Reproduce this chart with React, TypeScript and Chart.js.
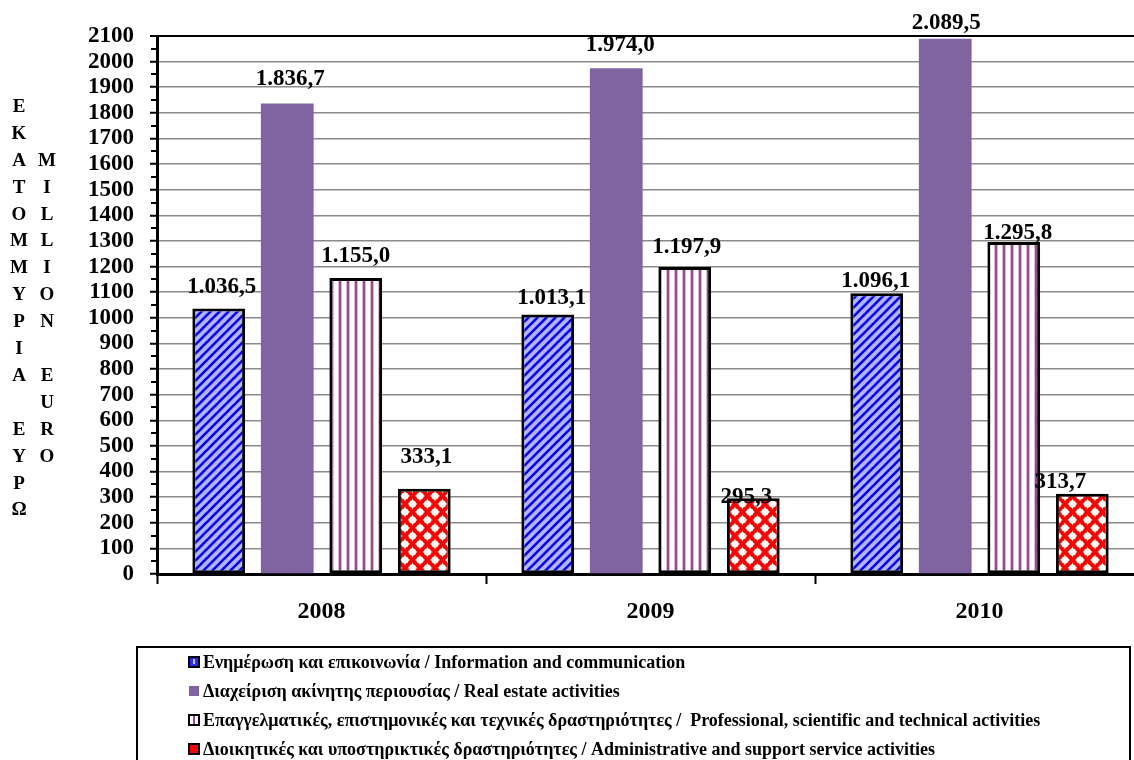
import React, { useEffect, useRef } from "react";
import { Chart, registerables } from "chart.js";

Chart.register(...registerables);

// ---------- data ----------
const categories = ["2008", "2009", "2010"];
const infoComm = [1036.5, 1013.1, 1096.1];
const realEstate = [1836.7, 1974.0, 2089.5];
const professional = [1155.0, 1197.9, 1295.8];
const adminSupport = [333.1, 295.3, 313.7];

const seriesNames = [
  "Ενημέρωση και επικοινωνία / Information and communication",
  "Διαχείριση ακίνητης περιουσίας / Real estate activities",
  "Επαγγελματικές, επιστημονικές και τεχνικές δραστηριότητες /  Professional, scientific and technical activities",
  "Διοικητικές και υποστηρικτικές δραστηριότητες / Administrative and support service activities",
];

const yMin = 0;
const yMax = 2100;
const yStep = 100;
const yTitleGreek = "ΕΚΑΤΟΜΜΥΡΙΑ ΕΥΡΩ";
const yTitleEnglish = "MILLION EURO";

// ---------- style ----------
const SERIF = "'Liberation Serif', 'Times New Roman', serif";
const PURPLE = "#8064a2";

// label nudges (px) relative to bar top: [dx, dy]
const LABEL_NUDGE: number[][][] = [
  [[3, -21], [4, -16], [-1, -12]],
  [[3, -24], [4, -23], [1, -16]],
  [[0, -22], [2, -20], [4, -9]],
  [[2, -32], [-7, -1], [-22, -12]],
];

function fmt(v: number): string {
  const s = v.toFixed(1);
  const [intPart, dec] = s.split(".");
  const withDots = intPart.replace(/\B(?=(\d{3})+(?!\d))/g, ".");
  return withDots + "," + dec;
}

function makePattern(w: number, h: number, draw: (g: CanvasRenderingContext2D) => void) {
  const c = document.createElement("canvas");
  c.width = w;
  c.height = h;
  const g = c.getContext("2d")!;
  draw(g);
  return g.createPattern(c, "repeat")!;
}

export default function App() {
  const ref = useRef<HTMLCanvasElement | null>(null);

  useEffect(() => {
    document.body.style.margin = "0";
    document.body.style.overflow = "hidden";
    const canvas = ref.current!;

    const bluePat = makePattern(9, 9, (g) => {
      g.fillStyle = "#b4b4ff";
      g.fillRect(0, 0, 9, 9);
      g.strokeStyle = "#0000ff";
      g.lineWidth = 2.6;
      for (const k of [-9, 0, 9]) {
        g.beginPath();
        g.moveTo(k - 1, 10);
        g.lineTo(k + 10, -1);
        g.stroke();
      }
    });
    const stripePat = makePattern(8, 8, (g) => {
      g.fillStyle = "#ffffff";
      g.fillRect(0, 0, 8, 8);
      g.fillStyle = "#dcbad6";
      g.fillRect(2, 0, 1, 8);
      g.fillRect(5, 0, 1, 8);
      g.fillStyle = "#9a4a8a";
      g.fillRect(3, 0, 2, 8);
    });
    const redPat = makePattern(15, 16, (g) => {
      g.fillStyle = "#ff0000";
      g.fillRect(0, 0, 15, 16);
      g.fillStyle = "#ffffff";
      const centers = [
        [0, 0], [15, 0], [0, 16], [15, 16], [7.5, 8],
      ];
      for (const [cx, cy] of centers) {
        g.beginPath();
        g.moveTo(cx, cy - 5.4);
        g.quadraticCurveTo(cx + 1.2, cy - 1.2, cx + 5.1, cy);
        g.quadraticCurveTo(cx + 1.2, cy + 1.2, cx, cy + 5.4);
        g.quadraticCurveTo(cx - 1.2, cy + 1.2, cx - 5.1, cy);
        g.quadraticCurveTo(cx - 1.2, cy - 1.2, cx, cy - 5.4);
        g.closePath();
        g.fill();
        g.beginPath();
        g.arc(cx, cy, 3.6, 0, Math.PI * 2);
        g.fill();
      }
    });

    const fills = [bluePat, PURPLE, stripePat, redPat];

    const labelPlugin = {
      id: "barLabels",
      afterDatasetsDraw(chart: any) {
        const ctx = chart.ctx;
        ctx.save();
        ctx.fillStyle = "#000";
        ctx.font = `bold 23px ${SERIF}`;
        ctx.textAlign = "center";
        ctx.textBaseline = "middle";
        chart.data.datasets.forEach((ds: any, di: number) => {
          const meta = chart.getDatasetMeta(di);
          meta.data.forEach((el: any, i: number) => {
            const n = LABEL_NUDGE[di][i];
            ctx.fillText(fmt(ds.data[i]), el.x + n[0], el.y + n[1]);
          });
        });
        ctx.restore();
      },
    };

    const decoPlugin = {
      id: "deco",
      afterDraw(chart: any) {
        const ctx = chart.ctx;
        const y = chart.scales.y;
        const left = chart.chartArea.left;
        ctx.save();
        // minor ticks
        ctx.strokeStyle = "#000";
        ctx.lineWidth = 2;
        for (let v = yMin + yStep / 2; v < yMax; v += yStep) {
          const py = Math.round(y.getPixelForValue(v));
          ctx.beginPath();
          ctx.moveTo(left - 6, py);
          ctx.lineTo(left, py);
          ctx.stroke();
        }
        // y titles (stacked letters)
        ctx.fillStyle = "#000";
        ctx.font = `bold 19px ${SERIF}`;
        ctx.textAlign = "center";
        ctx.textBaseline = "middle";
        const step = 26.9;
        Array.from(yTitleGreek).forEach((ch, i) => {
          if (ch !== " ") ctx.fillText(ch, 19, 107 + i * step);
        });
        Array.from(yTitleEnglish).forEach((ch, i) => {
          if (ch !== " ") ctx.fillText(ch, 47, 107 + (i + 2) * step);
        });

        // legend box
        ctx.lineWidth = 2;
        ctx.strokeStyle = "#000";
        ctx.strokeRect(137, 647, 993, 140);
        ctx.font = `bold 18px ${SERIF}`;
        ctx.textAlign = "left";
        const rows = [662, 691, 720, 749];
        seriesNames.forEach((name, i) => {
          const cy = rows[i];
          const mx = 189, ms = 10;
          if (i === 1) {
            ctx.fillStyle = PURPLE;
            ctx.fillRect(mx, cy - ms / 2, ms, ms);
          } else {
            if (i === 0) {
              ctx.fillStyle = "#2a2aff";
              ctx.fillRect(mx, cy - ms / 2, ms, ms);
              ctx.fillStyle = "#c0c0ff";
              ctx.fillRect(mx + 4, cy - 3, 2, 5);
            } else if (i === 2) {
              ctx.fillStyle = "#ffffff";
              ctx.fillRect(mx, cy - ms / 2, ms, ms);
              ctx.fillStyle = "#9a4a8a";
              ctx.fillRect(mx + 4, cy - ms / 2, 2, ms);
            } else {
              ctx.fillStyle = "#ff0000";
              ctx.fillRect(mx, cy - ms / 2, ms, ms);
            }
            ctx.lineWidth = 2;
            ctx.strokeStyle = "#000";
            ctx.strokeRect(mx, cy - ms / 2, ms, ms);
          }
          ctx.fillStyle = "#000";
          ctx.fillText(name, 203, cy + 1);
        });
        ctx.restore();
      },
    };

    const chart = new Chart(canvas, {
      type: "bar",
      data: {
        labels: categories,
        datasets: [
          { label: seriesNames[0], data: infoComm, backgroundColor: fills[0] as any, borderColor: "#000", borderWidth: 3, borderSkipped: false },
          { label: seriesNames[1], data: realEstate, backgroundColor: fills[1] as any, borderWidth: 0 },
          { label: seriesNames[2], data: professional, backgroundColor: fills[2] as any, borderColor: "#000", borderWidth: 3, borderSkipped: false },
          { label: seriesNames[3], data: adminSupport, backgroundColor: fills[3] as any, borderColor: "#000", borderWidth: 3, borderSkipped: false },
        ],
      },
      options: {
        responsive: false,
        animation: false,
        devicePixelRatio: 1,
        layout: { padding: { left: 0, top: 36, right: 6, bottom: 0 } },
        datasets: { bar: { categoryPercentage: 0.833, barPercentage: 0.77 } },
        plugins: { legend: { display: false }, tooltip: { enabled: false } },
        scales: {
          x: {
            offset: true,
            grid: {
              display: true,
              offset: true,
              drawOnChartArea: false,
              drawTicks: true,
              tickLength: 10,
              tickColor: "#000",
              tickWidth: 2,
            },
            border: { display: true, color: "#000", width: 3 },
            ticks: { color: "#000", font: { family: SERIF, size: 24, weight: "bold" }, padding: 13 },
            afterFit: (s: any) => {
              s.height = 186;
            },
          },
          y: {
            min: yMin,
            max: yMax,
            ticks: {
              stepSize: yStep,
              autoSkip: false,
              color: "#000",
              font: { family: SERIF, size: 23, weight: "bold" },
              padding: 16,
              callback: (v: any) => String(v),
            },
            grid: {
              color: (c: any) => (c.tick && c.tick.value === yMax ? "#000" : "#8a8a8a"),
              lineWidth: (c: any) => (c.tick && c.tick.value === yMax ? 2 : 1.5),
              tickColor: "#000",
              tickLength: 7,
              tickWidth: 2,
            },
            border: { display: true, color: "#000", width: 3 },
            afterFit: (s: any) => {
              s.width = 157;
            },
          },
        },
      } as any,
      plugins: [labelPlugin, decoPlugin],
    });

    return () => chart.destroy();
  }, []);

  return (
    <canvas
      ref={ref}
      width={1150}
      height={760}
      style={{ display: "block", width: 1150, height: 760 }}
    />
  );
}
